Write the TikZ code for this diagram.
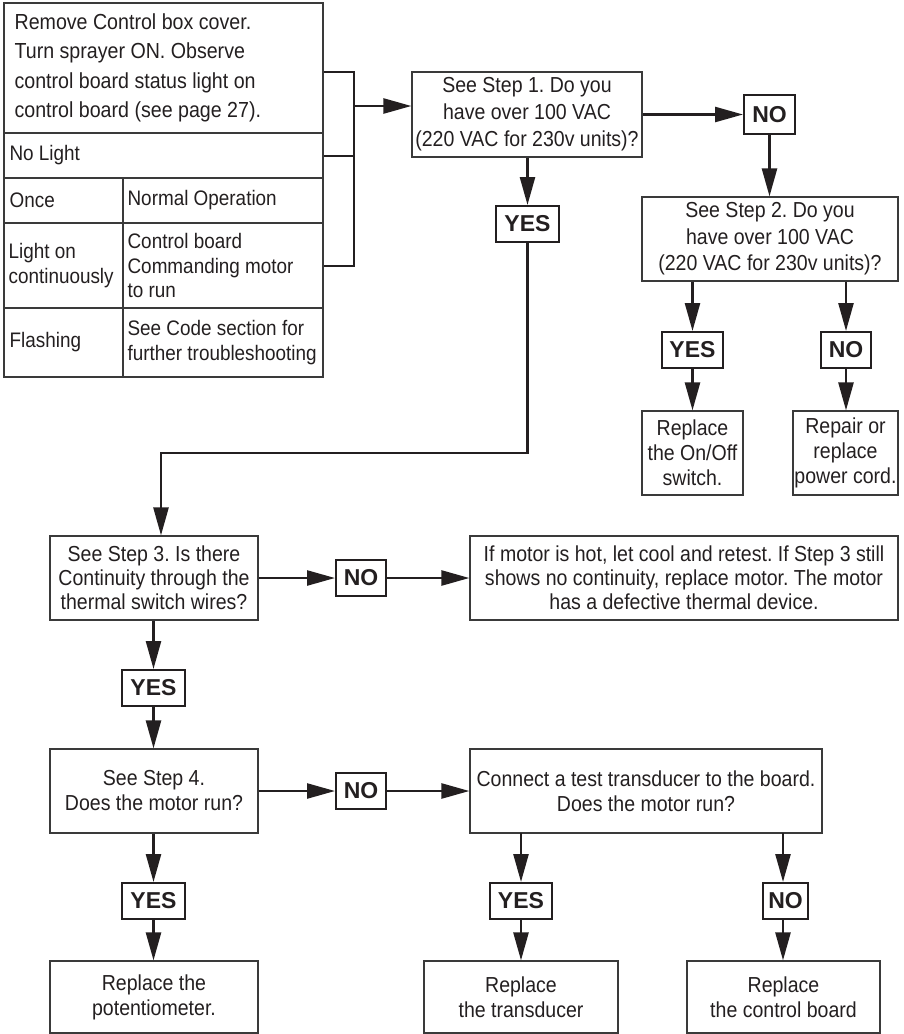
\documentclass[tikz,border=0pt]{standalone}
\usepackage{fontspec}
\setmainfont{Liberation Sans}[FakeStretch=0.9]
\newfontfamily\lblfont{Liberation Sans}
\usetikzlibrary{arrows.meta}
\definecolor{ink}{HTML}{231F20}
\definecolor{edge}{HTML}{3A3A3A}
\frenchspacing
\tikzset{
  box/.style={draw=edge, line width=1.2pt, inner sep=0pt, align=center, text=ink,
    font=\fontsize{21.7}{25}\selectfont},
  lbl/.style={draw=ink, line width=2pt, inner sep=0pt, text=ink,
    font=\lblfont\bfseries\fontsize{23}{23}\selectfont},
  cell/.style={draw=edge, line width=1.2pt, inner sep=0pt},
  ctext/.style={anchor=west, inner sep=0pt, align=left, text=ink,
    font=\fontsize{21}{24.5}\selectfont},
  arr/.style={draw=ink, line width=2.5pt, -{Triangle[length=28pt,width=15pt]}},
  ln/.style={draw=ink, line width=2.5pt},
}
\begin{document}
\begin{tikzpicture}[x=1pt,y=-1pt]
\useasboundingbox (0,0) rectangle (903,1034);
% ---- status table ----
\node[cell, minimum width=319pt, minimum height=130pt] (c0) at (163.5,68) {};
\node[cell, minimum width=319pt, minimum height=45pt] (c1) at (163.5,155.5) {};
\node[cell, minimum width=119pt, minimum height=45pt] (c2l) at (63.5,200.5) {};
\node[cell, minimum width=200pt, minimum height=45pt] (c2r) at (223,200.5) {};
\node[cell, minimum width=119pt, minimum height=85pt] (c3l) at (63.5,265.5) {};
\node[cell, minimum width=200pt, minimum height=85pt] (c3r) at (223,265.5) {};
\node[cell, minimum width=119pt, minimum height=69pt] (c4l) at (63.5,342.5) {};
\node[cell, minimum width=200pt, minimum height=69pt] (c4r) at (223,342.5) {};
\node[ctext, font=\fontsize{21.8}{29.5}\selectfont] (t0) at ([xshift=11pt]c0.west)
  {Remove Control box cover.\\Turn sprayer ON. Observe\\control board status light on\\control board (see page 27).};
\node[ctext] (t1) at ([xshift=6pt]c1.west) {No Light};
\node[ctext] (t2l) at ([xshift=6pt]c2l.west) {Once};
\node[ctext] (t2r) at ([xshift=5pt]c2r.west) {Normal Operation};
\node[ctext] (t3l) at ([xshift=5pt]c3l.west) {Light on\\continuously};
\node[ctext] (t3r) at ([xshift=5pt]c3r.west) {Control board\\Commanding motor\\to run};
\node[ctext] (t4l) at ([xshift=6pt]c4l.west) {Flashing};
\node[ctext] (t4r) at ([xshift=5pt]c4r.west) {See Code section for\\further troubleshooting};
% ---- top flow ----
\node[box, minimum width=230pt, minimum height=85pt, font=\fontsize{21.7}{27}\selectfont] (s1) at (527,114.5)
  {See Step 1. Do you\\have over 100 VAC\\(220 VAC for 230v units)?};
\node[lbl, minimum width=51pt, minimum height=39pt] (no1) at (769.5,114.5) {NO};
\node[lbl, minimum width=63pt, minimum height=36pt] (yes1) at (527.5,224) {YES};
\node[box, minimum width=256pt, minimum height=84pt, font=\fontsize{21.7}{26.5}\selectfont] (s2) at (770,239)
  {See Step 2. Do you\\have over 100 VAC\\(220 VAC for 230v units)?};
\node[lbl, minimum width=61pt, minimum height=36pt] (yes2) at (692.5,350) {YES};
\node[lbl, minimum width=50pt, minimum height=36pt] (no2) at (846,350) {NO};
\node[box, minimum width=101pt, minimum height=84pt] (r1) at (692.5,453) {Replace\\the On/Off\\switch.};
\node[box, minimum width=105pt, minimum height=84pt] (r2) at (845.5,453) {Repair or\\replace\\power cord.};
% ---- step 3 ----
\node[box, minimum width=208pt, minimum height=84pt, font=\fontsize{21.7}{24}\selectfont] (s3) at (154,578)
  {See Step 3. Is there\\Continuity through the\\thermal switch wires?};
\node[lbl, minimum width=50pt, minimum height=36pt] (no3) at (361,578) {NO};
\node[box, minimum width=428pt, minimum height=84pt, font=\fontsize{21.7}{24}\selectfont] (r3) at (684,578)
  {If motor is hot, let cool and retest. If Step 3 still\\shows no continuity, replace motor. The motor\\has a defective thermal device.};
\node[lbl, minimum width=63pt, minimum height=36pt] (yes3) at (153.5,688) {YES};
% ---- step 4 ----
\node[box, minimum width=208pt, minimum height=84pt] (s4) at (154,791) {See Step 4.\\Does the motor run?};
\node[lbl, minimum width=50pt, minimum height=36pt] (no4) at (361,791) {NO};
\node[box, minimum width=352pt, minimum height=84pt] (s5) at (646,791)
  {Connect a test transducer to the board.\\Does the motor run?};
\node[lbl, minimum width=63pt, minimum height=36pt] (yes4) at (153.5,901) {YES};
\node[lbl, minimum width=62pt, minimum height=36pt] (yes5) at (521,901) {YES};
\node[lbl, minimum width=45pt, minimum height=36pt] (no5) at (785.5,901) {NO};
\node[box, minimum width=208pt, minimum height=72pt] (r4) at (154,997) {Replace the\\potentiometer.};
\node[box, minimum width=194pt, minimum height=72pt] (r5) at (521,997) {Replace\\the transducer};
\node[box, minimum width=193pt, minimum height=72pt] (r6) at (783.5,997) {Replace\\the control board};
% ---- connectors ----
\coordinate (j1) at (354,72);
\coordinate (j2) at (354,156);
\coordinate (j3) at (354,266);
\coordinate (jm) at (354,106);
\draw[ln, line join=miter] (c0.east |- j1) -- (j1) -- (j3) -- (c3r.east |- j3);
\draw[ln] (c1.east |- j2) -- (j2);
\draw[arr] (jm) -- (s1.west |- jm);
\draw[arr] (s1.east |- no1) -- (no1.west);
\draw[arr] (no1.south) -- (no1.south |- s2.north);
\draw[arr] (s1.south -| yes1) -- (yes1.north);
\draw[arr] (s2.south -| yes2) -- (yes2.north);
\draw[arr] (s2.south -| no2) -- (no2.north);
\draw[arr] (yes2.south) -- (yes2.south |- r1.north);
\draw[arr] (no2.south) -- (no2.south |- r2.north);
\coordinate (bend) at (161,453);
\draw[arr, line join=miter] (yes1.south) |- (bend) -- (bend |- s3.north);
\draw[arr] (s3.east) -- (no3.west);
\draw[arr] (no3.east) -- (r3.west);
\draw[arr] (s3.south -| yes3) -- (yes3.north);
\draw[arr] (yes3.south) -- (yes3.south |- s4.north);
\draw[arr] (s4.east) -- (no4.west);
\draw[arr] (no4.east) -- (s5.west);
\draw[arr] (s4.south -| yes4) -- (yes4.north);
\draw[arr] (yes4.south) -- (yes4.south |- r4.north);
\coordinate (d5) at (521,833);
\coordinate (d6) at (783,833);
\draw[arr] (d5) -- (yes5.north);
\draw[arr] (yes5.south) -- (yes5.south |- r5.north);
\draw[arr] (d6) -- (d6 |- no5.north);
\draw[arr] (d6 |- no5.south) -- (d6 |- r6.north);
\end{tikzpicture}
\end{document}
